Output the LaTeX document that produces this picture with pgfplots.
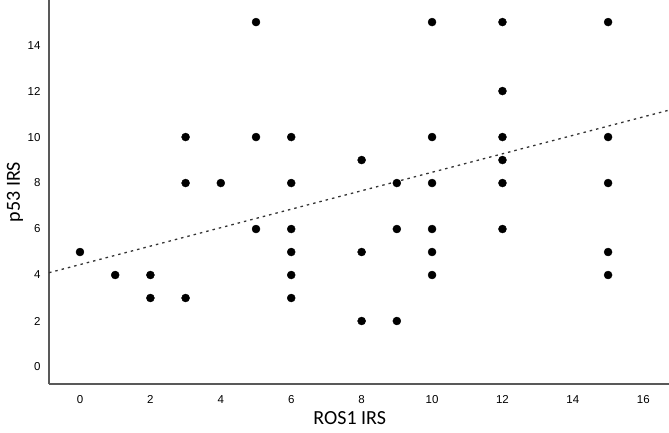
\documentclass[border=0pt]{standalone}
\usepackage{fontspec}
\setmainfont{Liberation Sans}
\newfontfamily\labfont{Carlito}
\usepackage{pgfplots}
\pgfplotsset{compat=1.18}
\begin{document}
\begin{tikzpicture}
\begin{axis}[
  scale only axis,
  width=620pt, height=384pt,
  xmin=-0.88, xmax=16.73,
  ymin=-0.74, ymax=15.96,
  axis x line*=bottom, axis y line*=left,
  axis line style={gray!70!black, line width=1.2pt, -},
  xtick={0,2,...,16}, ytick={0,2,...,14},
  major tick length=0pt,
  tick label style={font=\fontsize{11.5}{13}\selectfont, /pgf/number format/assume math mode=true},
  xticklabel style={yshift=-8pt},
  yticklabel style={xshift=-5pt},
  xlabel={ROS1 IRS}, ylabel={p53 IRS},
  label style={font=\labfont\fontsize{20}{22}\selectfont},
  xlabel style={at={(axis description cs:0.485,-0.0885)}, anchor=center},
  ylabel style={at={(axis description cs:-0.055,0.5)}, anchor=center},
  clip=false,
]
\addplot[only marks, mark=*, mark size=4pt, black] coordinates {
(0,5)(1,4)(2,4)(2,3)(3,10)(3,8)(3,3)(4,8)(5,15)(5,10)(5,6)
(6,10)(6,8)(6,6)(6,5)(6,4)(6,3)(8,9)(8,5)(8,2)(9,8)(9,6)(9,2)
(10,15)(10,10)(10,8)(10,6)(10,5)(10,4)
(12,15)(12,12)(12,10)(12,9)(12,8)(12,6)
(15,15)(15,10)(15,8)(15,5)(15,4)
};
\addplot[gray!40!black, line width=1.3pt, dash pattern=on 2.5pt off 4pt] coordinates {(-0.88,4.10)(16.73,11.17)};
\end{axis}
\pgfresetboundingbox
\path (-49pt,-48pt) rectangle (620pt,384pt);
\end{tikzpicture}
\end{document}
